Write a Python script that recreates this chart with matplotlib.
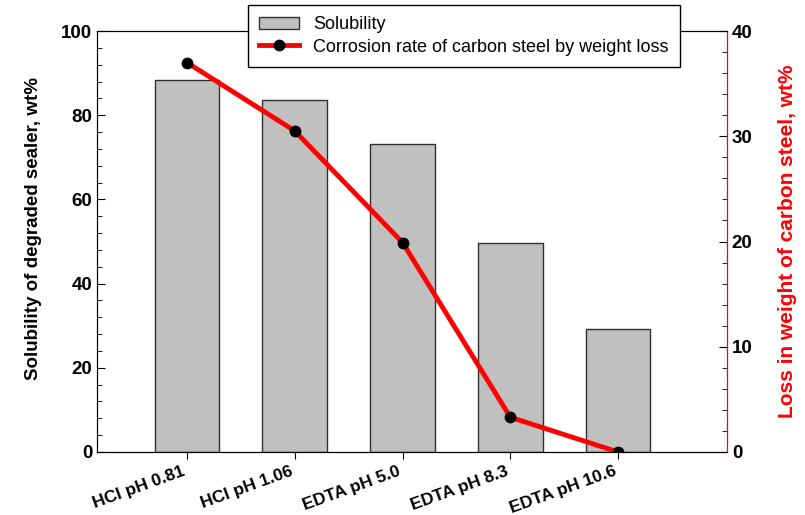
import numpy as np
import matplotlib.pyplot as plt
from matplotlib.ticker import MultipleLocator

# datos
categorias = ['HCl pH 0.81', 'HCl pH 1.06', 'EDTA pH 5.0', 'EDTA pH 8.3', 'EDTA pH 10.6']
solubilidad = [88.4, 83.6, 73.2, 49.6, 29.2]
corrosion = [37.0, 30.5, 19.9, 3.3, 0.0]

plt.rcParams['font.family'] = ['Liberation Sans', 'DejaVu Sans']

fig = plt.figure(figsize=(8.05, 5.15), dpi=100)
ax = fig.add_axes([97 / 805, 1 - 452 / 515, 630 / 805, 421 / 515])
x = np.arange(len(categorias))

barras = ax.bar(x, solubilidad, width=0.6, color='#c0c0c0', edgecolor='#303030',
                linewidth=1.0, label='Solubility', zorder=2)
ax.set_xlim(-0.835, 5.01)
ax.set_ylim(0, 100)
ax.set_xticks(x)
ax.set_xticklabels(categorias, rotation=20, ha='right', fontweight='bold', fontsize=12.5)
ax.yaxis.set_major_locator(MultipleLocator(20))
ax.yaxis.set_minor_locator(MultipleLocator(4))
ax.tick_params(axis='y', which='both', direction='in', labelsize=13.5)
ax.tick_params(axis='y', which='major', length=6)
ax.tick_params(axis='y', which='minor', length=3.5)
ax.tick_params(axis='x', direction='out', length=5)
for lbl in ax.get_yticklabels():
    lbl.set_fontweight('bold')
ax.set_ylabel('Solubility of degraded sealer, wt%', fontsize=13.5, fontweight='bold', labelpad=14)
ax.yaxis.label.set_y(0.532)
ax.spines['left'].set_color('#404040')

ax2 = ax.twinx()
linea, = ax2.plot(x, corrosion, color='red', linewidth=3.5, marker='o', markersize=7.5,
                  markerfacecolor='black', markeredgecolor='black',
                  label='Corrosion rate of carbon steel by weight loss', zorder=3)
ax2.set_ylim(0, 40)
ax2.yaxis.set_major_locator(MultipleLocator(10))
ax2.yaxis.set_minor_locator(MultipleLocator(2))
ax2.tick_params(axis='y', which='both', direction='in', labelsize=13.5)
ax2.tick_params(axis='y', which='major', length=6)
ax2.tick_params(axis='y', which='minor', length=3.5)
for lbl in ax2.get_yticklabels():
    lbl.set_fontweight('bold')
ax2.spines['right'].set_color('red')
ax2.set_ylabel('Loss in weight of carbon steel, wt%', fontsize=15, fontweight='bold',
               color='red', labelpad=18)

leg = fig.legend([barras, linea], ['Solubility', 'Corrosion rate of carbon steel by weight loss'],
                 loc='center', bbox_to_anchor=(464 / 805, 1 - 36 / 515), fontsize=13,
                 frameon=True, fancybox=False, edgecolor='black', framealpha=1,
                 handlelength=2.2, borderpad=0.6, labelspacing=0.3)
leg.get_frame().set_linewidth(1.0)

fig.savefig('out.png', dpi=100)
